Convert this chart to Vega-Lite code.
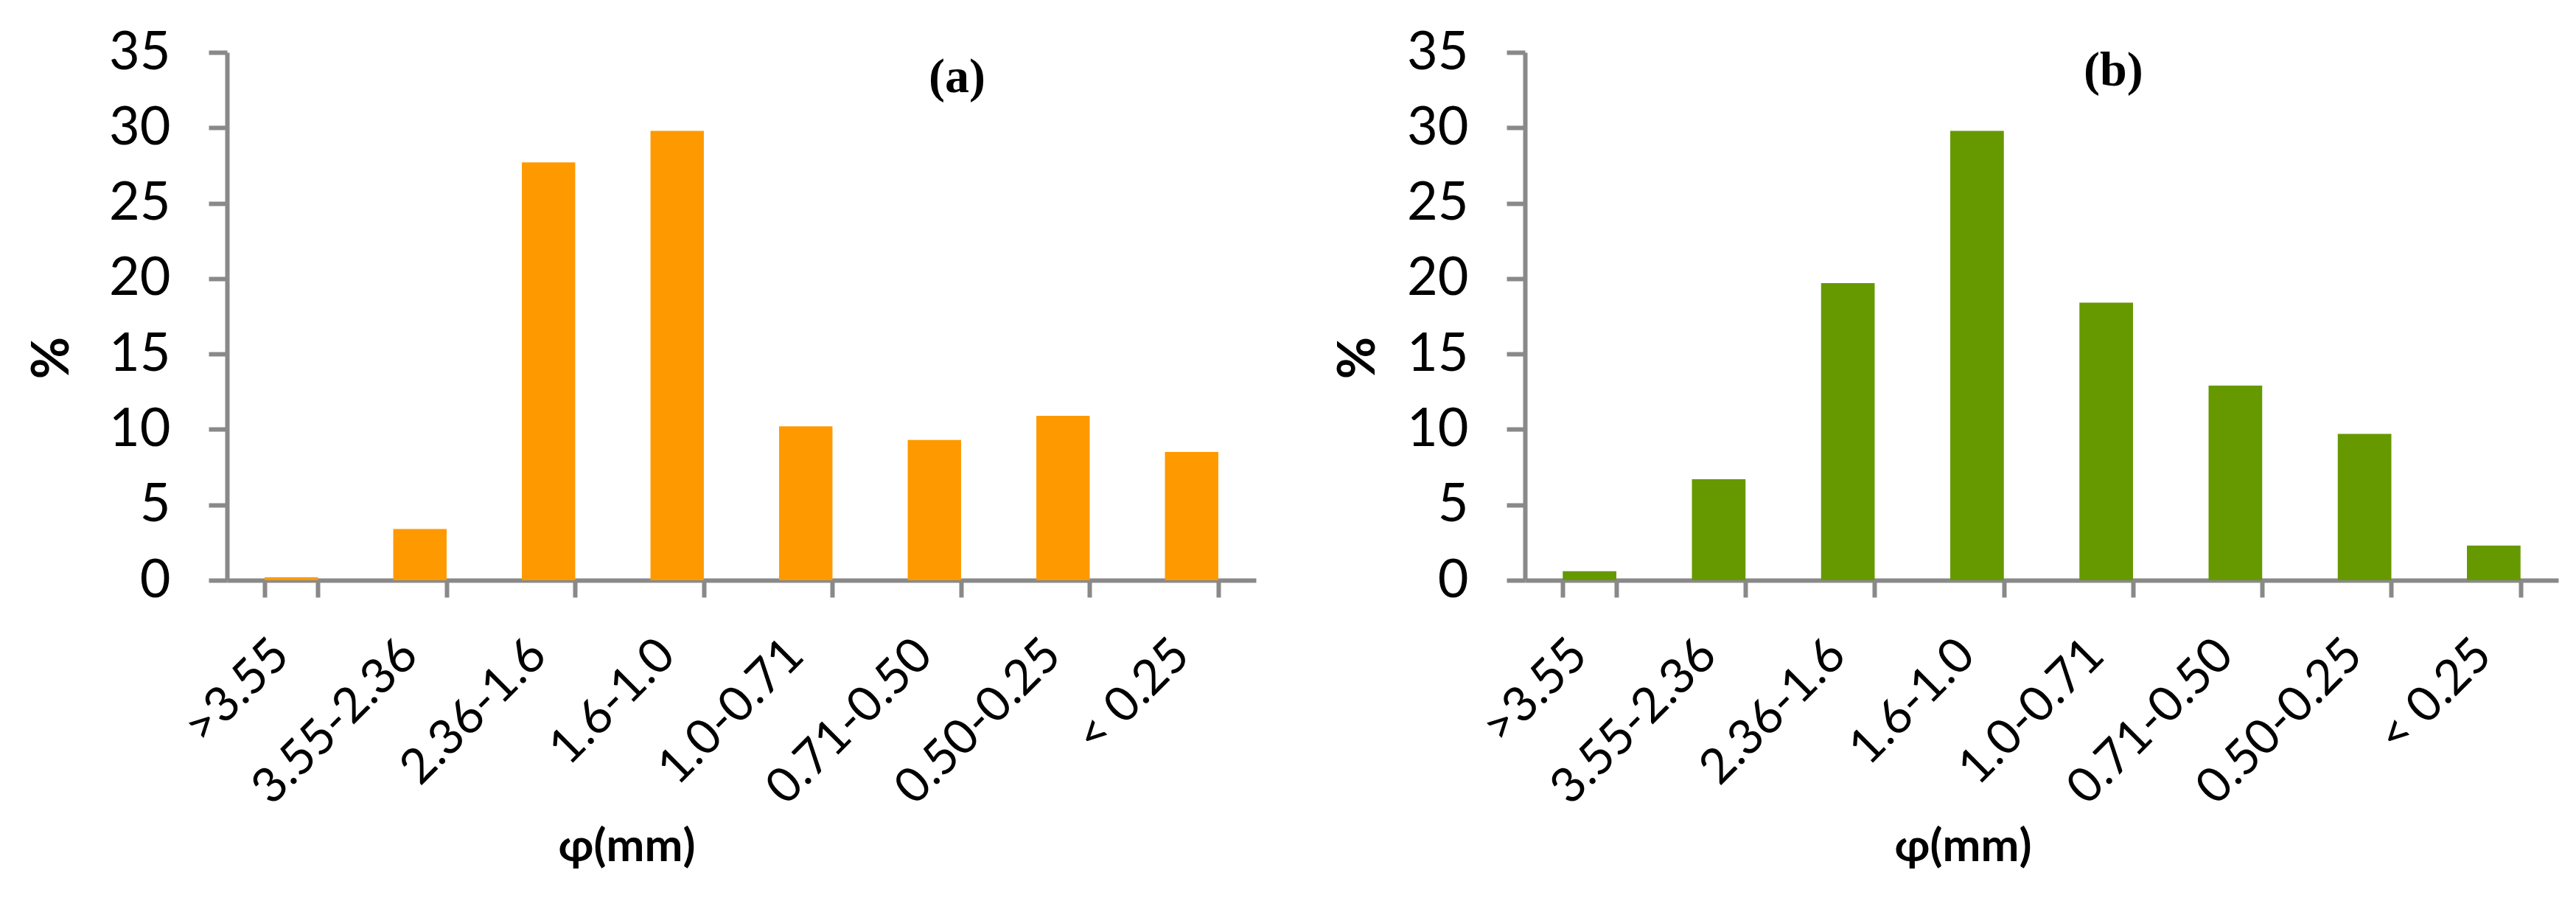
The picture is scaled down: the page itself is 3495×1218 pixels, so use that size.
{
  "$schema": "https://vega.github.io/schema/vega-lite/v6.json",
  "background": "white",
  "padding": {"left": 36, "top": 35, "right": 5, "bottom": 5},
  "spacing": 104,
  "config": {
    "view": {"stroke": null},
    "axis": {
      "domainColor": "#898989",
      "tickColor": "#898989",
      "domainWidth": 6,
      "tickWidth": 6,
      "labelColor": "black",
      "titleColor": "black",
      "grid": false,
      "labelFont": "Lato",
      "titleFont": "Lato"
    }
  },
  "datasets": {
    "a": [
      {"fraction": ">3.55", "pct": 0.2},
      {"fraction": "3.55-2.36", "pct": 3.4},
      {"fraction": "2.36-1.6", "pct": 27.7},
      {"fraction": "1.6-1.0", "pct": 29.8},
      {"fraction": "1.0-0.71", "pct": 10.2},
      {"fraction": "0.71-0.50", "pct": 9.3},
      {"fraction": "0.50-0.25", "pct": 10.9},
      {"fraction": "< 0.25", "pct": 8.5}
    ],
    "b": [
      {"fraction": ">3.55", "pct": 0.6},
      {"fraction": "3.55-2.36", "pct": 6.7},
      {"fraction": "2.36-1.6", "pct": 19.7},
      {"fraction": "1.6-1.0", "pct": 29.8},
      {"fraction": "1.0-0.71", "pct": 18.4},
      {"fraction": "0.71-0.50", "pct": 12.9},
      {"fraction": "0.50-0.25", "pct": 9.7},
      {"fraction": "< 0.25", "pct": 2.3}
    ]
  },
  "hconcat": [
    {
      "width": 1396,
      "height": 716,
      "data": {"name": "a"},
      "title": {"text": "(a)", "anchor": "start", "frame": "group", "font": "Liberation Serif", "fontWeight": "bold", "fontSize": 66, "color": "black", "baseline": "top", "offset": 0, "dx": 952, "dy": 104},
      "mark": {"type": "bar", "color": "#FF9900"},
      "encoding": {
        "x": {
          "field": "fraction", "type": "nominal", "sort": null,
          "scale": {"paddingInner": 0.585, "paddingOuter": 0.2925},
          "axis": {
            "title": "φ(mm)", "tickBand": "extent", "tickSize": 23,
            "labelAngle": -45, "labelAlign": "right", "labelBaseline": "alphabetic", "labelPadding": 82,
            "labelFontSize": 66, "labelLimit": 0, "labelOverlap": false, "labelBound": false, "labelFlush": false,
            "titleFontSize": 62, "titleFontWeight": "bold", "titleX": 542, "titleY": 380,
            "titleBaseline": "alphabetic", "titleAlign": "center"
          }
        },
        "y": {
          "field": "pct", "type": "quantitative",
          "scale": {"domain": [0, 35], "nice": false},
          "axis": {
            "title": "%", "values": [0, 5, 10, 15, 20, 25, 30, 35], "tickSize": 25,
            "labelPadding": 52, "labelFontSize": 72, "labelFlush": false, "labelOverlap": false,
            "titleFontSize": 70, "titleFontWeight": "bold", "titleAngle": -90,
            "titleX": -216, "titleY": 414, "titleBaseline": "alphabetic", "titleAlign": "center"
          }
        }
      }
    },
    {
      "width": 1402,
      "height": 716,
      "data": {"name": "b"},
      "title": {"text": "(b)", "anchor": "start", "frame": "group", "font": "Liberation Serif", "fontWeight": "bold", "fontSize": 66, "color": "black", "baseline": "top", "offset": 0, "dx": 758, "dy": 95},
      "mark": {"type": "bar", "color": "#669900"},
      "encoding": {
        "x": {
          "field": "fraction", "type": "nominal", "sort": null,
          "scale": {"paddingInner": 0.585, "paddingOuter": 0.2925},
          "axis": {
            "title": "φ(mm)", "tickBand": "extent", "tickSize": 23,
            "labelAngle": -45, "labelAlign": "right", "labelBaseline": "alphabetic", "labelPadding": 82,
            "labelFontSize": 66, "labelLimit": 0, "labelOverlap": false, "labelBound": false, "labelFlush": false,
            "titleFontSize": 62, "titleFontWeight": "bold", "titleX": 594, "titleY": 380,
            "titleBaseline": "alphabetic", "titleAlign": "center"
          }
        },
        "y": {
          "field": "pct", "type": "quantitative",
          "scale": {"domain": [0, 35], "nice": false},
          "axis": {
            "title": "%", "values": [0, 5, 10, 15, 20, 25, 30, 35], "tickSize": 25,
            "labelPadding": 52, "labelFontSize": 72, "labelFlush": false, "labelOverlap": false,
            "titleFontSize": 70, "titleFontWeight": "bold", "titleAngle": -90,
            "titleX": -205, "titleY": 414, "titleBaseline": "alphabetic", "titleAlign": "center"
          }
        }
      }
    }
  ]
}
